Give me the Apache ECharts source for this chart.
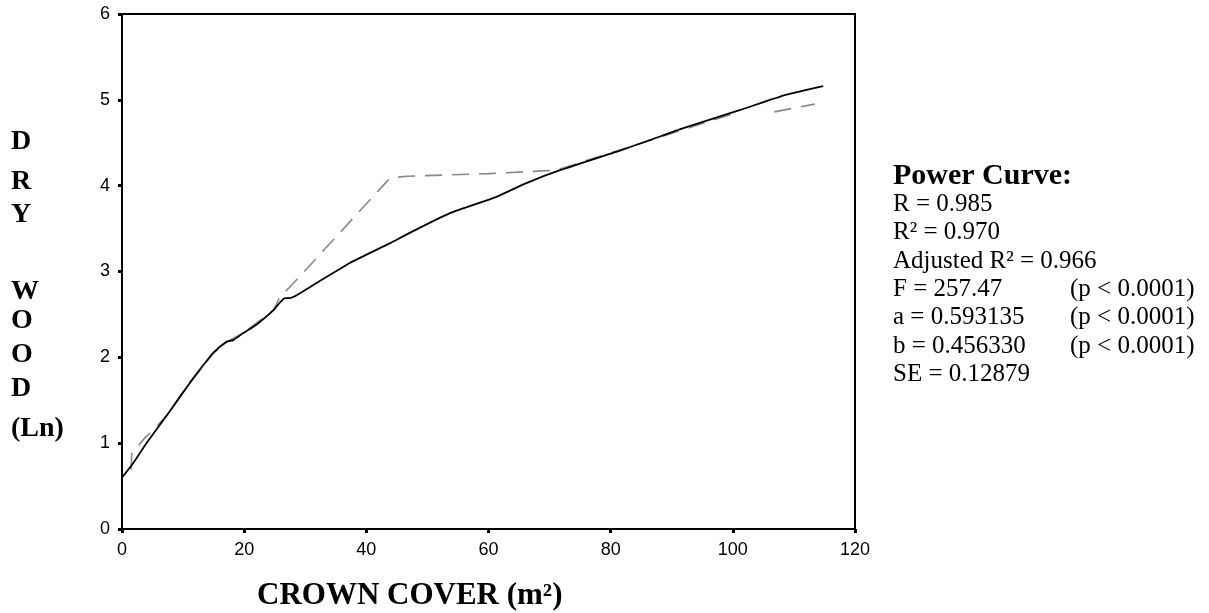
<!DOCTYPE html>
<html>
<head>
<meta charset="utf-8">
<script src="https://cdn.jsdelivr.net/npm/echarts@6/dist/echarts.min.js"></script>
<style>
html,body{margin:0;padding:0;background:#fff;}
#chart{width:1209px;height:613px;}
</style>
</head>
<body>
<div id="chart"></div>
<script>
// Fitted power curve (solid black)
const fitX = [0, 1.85, 4, 7.3, 11.1, 13, 14.9, 17.1, 18.2, 19.8, 22, 24.8, 26.7, 27.5, 30.8, 37.3, 43.9, 47.1, 53.7, 61.3, 66.2, 71.7, 82, 86.4, 91.9, 101.1, 108.8, 114.8];
const fitY = [0.6, 0.77, 1.0, 1.32, 1.70, 1.88, 2.05, 2.18, 2.20, 2.28, 2.38, 2.55, 2.69, 2.69, 2.82, 3.10, 3.33, 3.45, 3.68, 3.87, 4.03, 4.18, 4.42, 4.53, 4.67, 4.88, 5.06, 5.16];
// Observed (dashed grey); '-' marks where the dashed line is hidden / broken
const obsX = [1.5, 1.6, 3.6, 5.5, 7.5, 11, 15, 17.1, 20, 24.8, 25.9, 27.5, 43.9, 46.6, 60, 71.1, 101, null, 106.8, 113.4];
const obsY = [0.69, 0.88, 1.05, 1.18, 1.34, 1.70, 2.05, 2.18, 2.29, 2.55, 2.71, 2.82, 4.09, 4.11, 4.14, 4.18, 4.86, null, 4.86, 4.95];
// Axis ticks
const xTicks = [0, 20, 40, 60, 80, 100, 120];
const yTicks = [0, 1, 2, 3, 4, 5, 6];
// Texts
const yTitleLetters = ['D', 'R', 'Y', '', 'W', 'O', 'O', 'D', '(Ln)'];
const xTitle = 'CROWN COVER (m²)';
const statsTitle = 'Power Curve:';
const statsLeft = ['R = 0.985', 'R² = 0.970', 'Adjusted R² = 0.966', 'F = 257.47', 'a = 0.593135', 'b = 0.456330', 'SE = 0.12879'];
const statsRight = ['', '', '', '(p < 0.0001)', '(p < 0.0001)', '(p < 0.0001)', ''];

const fitData = fitX.map((x, i) => [x, fitY[i]]);
const obsData = obsX.map((x, i) => (x === null ? ['-', '-'] : [x, obsY[i]]));

const chart = echarts.init(document.getElementById('chart'), null, {renderer: 'canvas'});

const graphics = [];
const yLetterCenters = [141, 181, 214, 0, 291, 320, 354, 388, 428];
yTitleLetters.forEach((t, i) => {
  if (!t) return;
  graphics.push({
    type: 'text', left: 11, top: yLetterCenters[i] - 13,
    style: {text: t, font: 'bold 28px "Liberation Serif"', fill: '#000'}
  });
});
graphics.push({
  type: 'text', left: 257, top: 580,
  style: {text: xTitle, font: 'bold 31px "Liberation Serif"', fill: '#000'}
});
graphics.push({
  type: 'text', left: 893, top: 161,
  style: {text: statsTitle, font: 'bold 30px "Liberation Serif"', fill: '#000'}
});
statsLeft.forEach((t, i) => {
  graphics.push({
    type: 'text', left: 893, top: 192 + i * 28.3,
    style: {text: t, font: '25px "Liberation Serif"', fill: '#000'}
  });
  if (statsRight[i]) {
    graphics.push({
      type: 'text', left: 1070, top: 192 + i * 28.3,
      style: {text: statsRight[i], font: '25px "Liberation Serif"', fill: '#000'}
    });
  }
});

chart.setOption({
  animation: false,
  backgroundColor: '#fff',
  grid: {left: 122, right: 354, top: 14, bottom: 84, show: true, borderColor: '#000', borderWidth: 2, backgroundColor: 'transparent'},
  xAxis: {
    type: 'value', min: xTicks[0], max: xTicks[xTicks.length - 1], interval: 20,
    axisLine: {show: true, onZero: false, lineStyle: {color: '#000', width: 2}},
    axisTick: {show: true, inside: false, length: 4, lineStyle: {color: '#000', width: 3}},
    axisLabel: {color: '#000', fontFamily: '"Liberation Sans"', fontSize: 18, margin: 12},
    splitLine: {show: false}
  },
  yAxis: {
    type: 'value', min: yTicks[0], max: yTicks[yTicks.length - 1], interval: 1,
    axisLine: {show: true, onZero: false, lineStyle: {color: '#000', width: 2}},
    axisTick: {show: true, inside: false, length: 4, lineStyle: {color: '#000', width: 3}},
    axisLabel: {color: '#000', fontFamily: '"Liberation Sans"', fontSize: 18, margin: 12},
    splitLine: {show: false}
  },
  series: [
    {
      type: 'line', data: obsData, showSymbol: false, symbol: 'none', connectNulls: false,
      lineStyle: {color: '#888', width: 1.6, type: [17, 10]}, z: 2
    },
    {
      type: 'line', data: fitData, showSymbol: false, symbol: 'none', smooth: 0.2,
      lineStyle: {color: '#000', width: 1.8}, z: 3
    }
  ],
  graphic: graphics
});
</script>
</body>
</html>
